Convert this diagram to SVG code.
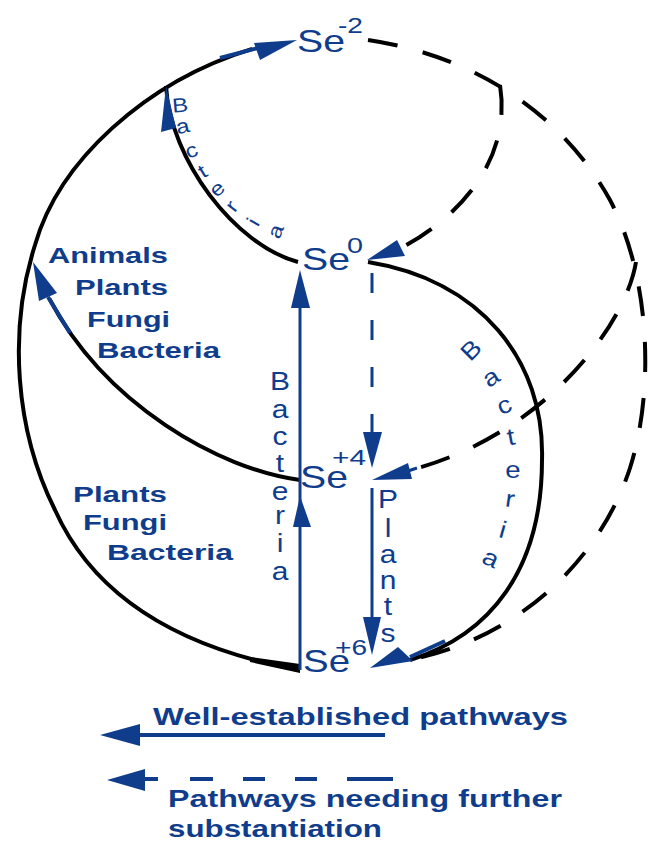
<svg xmlns="http://www.w3.org/2000/svg" width="648" height="842" viewBox="0 0 648 842">
<style>
.blk{fill:none;stroke:#000;stroke-width:4}
.dsh{stroke-dasharray:30 26}
.bl{fill:none;stroke:#0f3d8c;stroke-width:3}
.blt{fill:none;stroke:#0f3d8c;stroke-width:4}
.ah{fill:#0f3d8c;stroke:none}
text{font-family:"Liberation Sans",Arial,sans-serif;fill:#0f3d8c}
.se{font-size:32px}
.sup{font-size:22px}
.lab{font-size:22px;font-weight:bold}
.leg{font-size:24px;font-weight:bold}
.v{font-size:25px;text-anchor:middle}
.c1{font-size:20px;text-anchor:middle}
.c2{font-size:24px;text-anchor:middle}
</style>
<rect width="648" height="842" fill="#fff"/>
<g id="connectors">
  <!-- outer left solid arc Se+6 -> Se-2 -->
  <path class="blk" d="M300,670 C200,652 100,610 55,510 C15,430 8,330 35,245 C58.8,161.4 145.3,81.7 252.2,48.8"/>
  <polygon points="250,657 300,664 300,673 250,662" fill="#000"/>
  <line class="blt" x1="220" y1="58" x2="258" y2="48"/>
  <polygon class="ah" points="297,40 254,43 260,60"/>
  <!-- inner arc Se0 -> outer (Bacteria) -->
  <path class="blk" d="M298,262 C235,245 170,160 166,86"/>
  <polygon class="ah" points="166,86 161,132 176,128"/>
  <!-- Se+4 -> outer arc (Animals Plants Fungi Bacteria) -->
  <path class="blk" d="M300,480 C219,469.2 105.6,404.9 49.4,298.9"/>
  <line class="blt" x1="70" y1="333" x2="48" y2="297"/>
  <polygon class="ah" points="33,262 57,293 39,301"/>
  <!-- right solid arc Se0 -> Se+6 (Bacteria) -->
  <path class="blk" d="M368,262 C480,280 545,360 542,460 C542,570 490,635 410,660"/>
  <line class="blt" x1="445" y1="641" x2="410" y2="657"/>
  <polygon class="ah" points="370,668 398,647 413,661"/>
  <!-- outer dashed arc Se-2 -> Se+6 -->
  <path class="blk dsh" d="M368,40 C470,55 560,110 610,200 C650,275 655,390 630,468 C600,560 520,635 418,658"/>
  <!-- dashed branch to Se0 -->
  <path class="blk dsh" d="M500,85 C510.8,152.5 469.8,211.9 397.3,250.1"/>
  <polygon class="ah" points="367,260 397,240 405,256"/>
  <!-- dashed branch to Se+4 -->
  <path class="blk dsh" d="M636,262 C626.1,323.2 548.2,430.6 417.5,468.2"/>
  <line class="bl" x1="417" y1="468" x2="405" y2="472"/>
  <polygon class="ah" points="372,480 408,463 412,479"/>
  <!-- Se0 -> Se+4 dashed blue -->
  <line class="bl" x1="372" y1="273" x2="372" y2="434" stroke-dasharray="20 27"/>
  <polygon class="ah" points="363,432 382,432 372,468"/>
  <!-- Se+4 -> Se+6 (Plants) -->
  <line class="bl" x1="372" y1="488" x2="372" y2="620"/>
  <polygon class="ah" points="363,617 381,617 372,655"/>
  <!-- Se+6 -> Se+4 -> Se0 (Bacteria) -->
  <line class="bl" x1="300" y1="670" x2="300" y2="300"/>
  <polygon class="ah" points="293,527 311,527 300,496"/>
  <polygon class="ah" points="291,308 310,308 300,270"/>
</g>
<g id="se-2">
  <text class="se" x="297" y="52" textLength="48" lengthAdjust="spacingAndGlyphs">Se</text>
  <text class="sup" x="338" y="33" textLength="25" lengthAdjust="spacingAndGlyphs">-2</text>
</g>
<g id="se0">
  <text class="se" x="302" y="270" textLength="48" lengthAdjust="spacingAndGlyphs">Se</text>
  <text class="sup" x="347" y="253" textLength="16" lengthAdjust="spacingAndGlyphs">0</text>
</g>
<g id="se4">
  <text class="se" x="300" y="488" textLength="48" lengthAdjust="spacingAndGlyphs">Se</text>
  <text class="sup" x="332" y="465" textLength="34" lengthAdjust="spacingAndGlyphs">+4</text>
</g>
<g id="se6">
  <text class="se" x="303" y="672" textLength="47" lengthAdjust="spacingAndGlyphs">Se</text>
  <text class="sup" x="335" y="655" textLength="32" lengthAdjust="spacingAndGlyphs">+6</text>
</g>
<g id="label-se4-outer">
  <text class="lab" x="48" y="263" textLength="120" lengthAdjust="spacingAndGlyphs">Animals</text>
  <text class="lab" x="75" y="295" textLength="93" lengthAdjust="spacingAndGlyphs">Plants</text>
  <text class="lab" x="87" y="327" textLength="83" lengthAdjust="spacingAndGlyphs">Fungi</text>
  <text class="lab" x="97" y="358" textLength="123" lengthAdjust="spacingAndGlyphs">Bacteria</text>
</g>
<g id="label-se6-outer">
  <text class="lab" x="73" y="502" textLength="94" lengthAdjust="spacingAndGlyphs">Plants</text>
  <text class="lab" x="83" y="530" textLength="84" lengthAdjust="spacingAndGlyphs">Fungi</text>
  <text class="lab" x="107" y="560" textLength="126" lengthAdjust="spacingAndGlyphs">Bacteria</text>
</g>
<g id="label-vertical-bacteria" transform="translate(280 0) scale(1.2 1)">
  <text class="v" x="0" y="390">B</text>
  <text class="v" x="0" y="418">a</text>
  <text class="v" x="0" y="445">c</text>
  <text class="v" x="0" y="472">t</text>
  <text class="v" x="0" y="500">e</text>
  <text class="v" x="0" y="524">r</text>
  <text class="v" x="0" y="552">i</text>
  <text class="v" x="0" y="580">a</text>
</g>
<g id="label-vertical-plants" transform="translate(388 0) scale(1.2 1)">
  <text class="v" x="0" y="508">P</text>
  <text class="v" x="0" y="537">l</text>
  <text class="v" x="0" y="563">a</text>
  <text class="v" x="0" y="589">n</text>
  <text class="v" x="0" y="615">t</text>
  <text class="v" x="0" y="642">s</text>
</g>
<g id="label-curved-bacteria-top">
  <text class="c1" transform="translate(180 105) rotate(-5) scale(1.2 1)" y="7">B</text>
  <text class="c1" transform="translate(183 128) rotate(-12) scale(1.2 1)" y="5">a</text>
  <text class="c1" transform="translate(192 152) rotate(-22) scale(1.2 1)" y="5">c</text>
  <text class="c1" transform="translate(203 172) rotate(-32) scale(1.2 1)" y="6">t</text>
  <text class="c1" transform="translate(218 190) rotate(-42) scale(1.2 1)" y="5">e</text>
  <text class="c1" transform="translate(233 207) rotate(-52) scale(1.2 1)" y="5">r</text>
  <text class="c1" transform="translate(253 222) rotate(-60) scale(1.2 1)" y="7">i</text>
  <text class="c1" transform="translate(277 232) rotate(-68) scale(1.2 1)" y="5">a</text>
</g>
<g id="label-curved-bacteria-right">
  <text class="c2" transform="translate(471 350) rotate(-45) scale(1.15 1)" y="8">B</text>
  <text class="c2" transform="translate(492 379) rotate(-33) scale(1.15 1)" y="6">a</text>
  <text class="c2" transform="translate(505 407) rotate(-22) scale(1.15 1)" y="6">c</text>
  <text class="c2" transform="translate(511 437) rotate(-10) scale(1.15 1)" y="8">t</text>
  <text class="c2" transform="translate(513 472) rotate(0) scale(1.15 1)" y="6">e</text>
  <text class="c2" transform="translate(510 501) rotate(8) scale(1.15 1)" y="6">r</text>
  <text class="c2" transform="translate(503 530) rotate(16) scale(1.15 1)" y="8">i</text>
  <text class="c2" transform="translate(490 560) rotate(25) scale(1.15 1)" y="6">a</text>
</g>
<g id="legend">
  <line class="blt" x1="136" y1="735" x2="385" y2="735"/>
  <polygon class="ah" points="100,735 140,724 140,746"/>
  <text class="leg" x="153" y="725" textLength="415" lengthAdjust="spacingAndGlyphs">Well-established pathways</text>
  <path class="blt" d="M143,779 H158 M190,779 H213 M243,779 H265 M295,779 H317 M347,779 H393"/>
  <polygon class="ah" points="107,780 145,769 145,791"/>
  <text class="leg" x="168" y="807" textLength="394" lengthAdjust="spacingAndGlyphs">Pathways needing further</text>
  <text class="leg" x="168" y="837" textLength="214" lengthAdjust="spacingAndGlyphs">substantiation</text>
</g>
</svg>
